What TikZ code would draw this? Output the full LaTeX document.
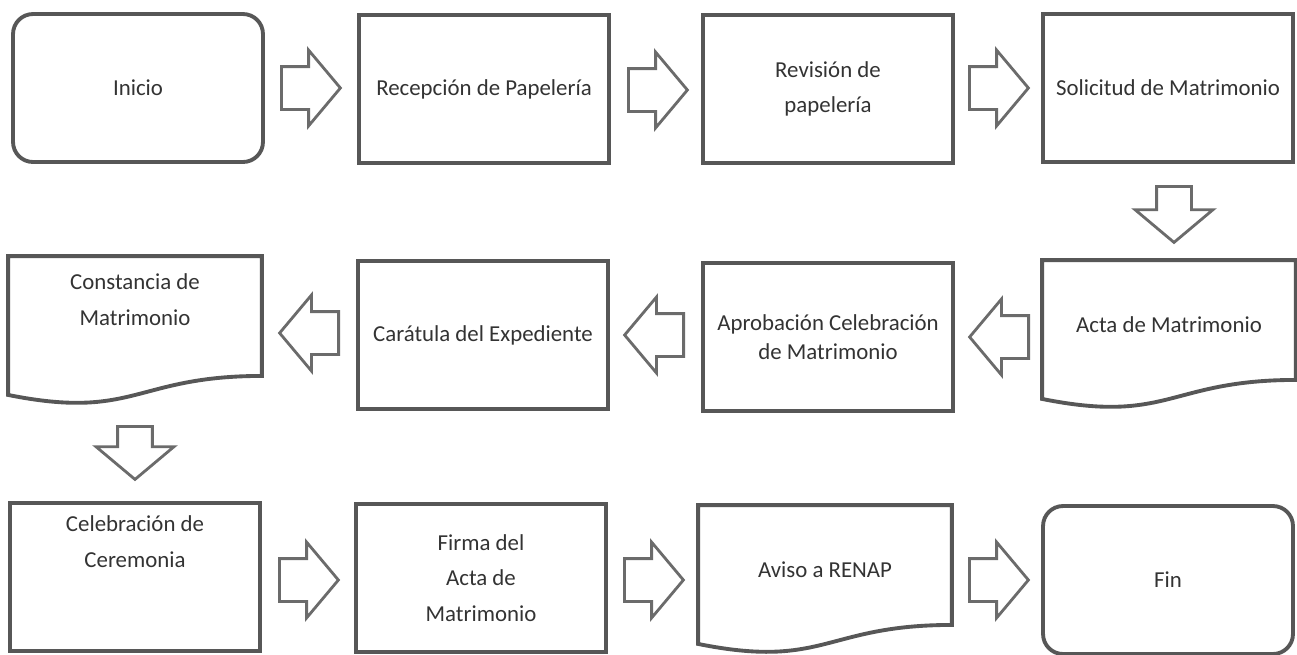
\documentclass[tikz,border=0pt]{standalone}
\usepackage{fontspec}
\setmainfont{Carlito}
\usetikzlibrary{shapes.arrows}
\newcommand{\toptext}[3]{\parbox[c][#1][t]{4.9cm}{\centering\vspace*{#2}#3}}

\begin{document}
\begin{tikzpicture}[x=0.02cm,y=-0.02cm,
  proc/.style={draw=cv,line width=2.2pt,fill=white,text=clv,minimum width=5cm,minimum height=2.96cm,inner sep=0pt,align=center,font=\fontsize{13}{20}\selectfont},
  term/.style={proc,rounded corners=0.4cm},
  doc/.style={proc,draw=none,minimum height=2.52cm},
  docline/.style={draw=cv,line width=2.2pt},
  flow/.style={single arrow,anchor=tail,draw=ca,line width=1.6pt,fill=white,inner xsep=0pt,inner ysep=0.4cm,minimum height=1.18cm,minimum width=1.46cm,single arrow head extend=0.33cm,single arrow tip angle=100},
  flowdown/.style={flow,rotate=-90,inner ysep=0.32cm,minimum height=1.12cm,minimum width=1.5cm,single arrow head extend=0.43cm}]
%
\useasboundingbox (0,0) rectangle (1297,654);
%
\definecolor{cv}{rgb}{0.34,0.34,0.34}
\definecolor{ca}{rgb}{0.42,0.42,0.42}
\definecolor{clv}{rgb}{0.2,0.2,0.2}
%
\node[term] (v0) at (138,88) {Inicio};
\node[proc] (v1) at (484,89) {Recepción de Papelería};
\node[proc] (v2) at (828,89) {Revisión de\\papelería};
\node[proc] (v3) at (1168,88) {Solicitud de Matrimonio};
\node[doc] (v4) at (1169,325) {Acta de Matrimonio};
\node[proc,font=\fontsize{13}{16.5}\selectfont] (v5) at (828,337) {Aprobación Celebración\\de Matrimonio};
\node[proc] (v6) at (483,335) {Carátula del Expediente};
\node[doc] (v7) at (135,321) {\toptext{2.52cm}{0.32cm}{Constancia de\\Matrimonio}};
\node[proc] (v8) at (135,577) {\toptext{2.96cm}{0.26cm}{Celebración de\\Ceremonia}};
\node[proc] (v9) at (481,578) {Firma del\\Acta de\\Matrimonio};
\node[doc] (v10) at (825,570) {Aviso a RENAP};
\node[term] (v11) at (1168,580) {Fin};
%
\foreach \n in {v4,v7,v10}
  \draw[docline] (\n.north west) -- (\n.north east) -- ([yshift=0.2cm]\n.south east)
    .. controls ([yshift=0.2cm]\n.south) and ([yshift=-0.69cm]\n.south) .. ([yshift=-0.18cm]\n.south west) -- cycle;
%
\node[flow] (a0) at (280,88) {};
\node[flow] (a1) at (627,90) {};
\node[flow] (a2) at (968,88) {};
\node[flowdown] (a3) at (1174,185) {};
\node[flow,rotate=180] (a4) at (1030,337) {};
\node[flow,rotate=180] (a5) at (685,335) {};
\node[flow,rotate=180] (a6) at (340,333) {};
\node[flowdown,minimum height=1.06cm] (a7) at (135,425) {};
\node[flow] (a8) at (278,580) {};
\node[flow] (a9) at (623,580) {};
\node[flow] (a10) at (968,580) {};
%
\end{tikzpicture}
\end{document}
